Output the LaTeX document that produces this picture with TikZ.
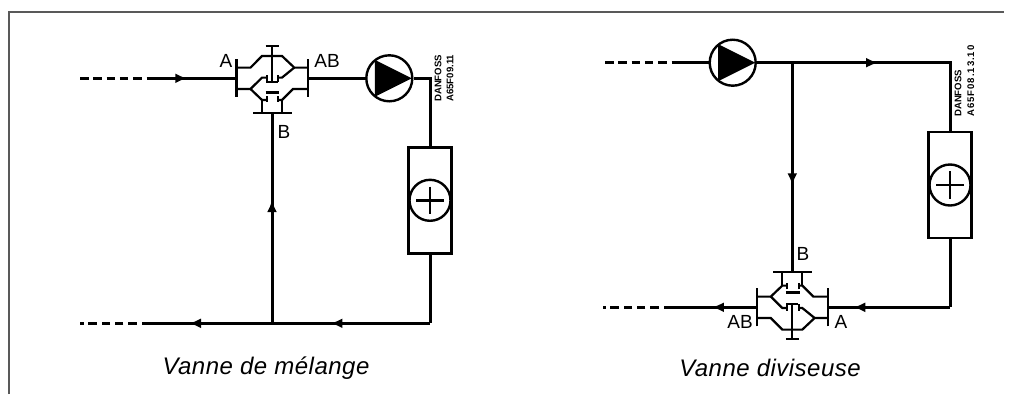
\documentclass[tikz,border=0pt]{standalone}
\usepackage{fontspec}
\setmainfont{Liberation Sans}
\usetikzlibrary{arrows.meta,decorations.markings}
\tikzset{
    pipe/.style={line width=3pt},
    dashpipe/.style={line width=3pt, dash pattern=on 8.5pt off 4.8pt},
    flow/.style={postaction={decorate}, decoration={markings, mark=at position #1 with {\arrow{Latex[length=12pt,width=10pt]}}}},
    frameline/.style={line width=2pt, draw=black!65},
    tag/.style={font=\fontsize{19}{19}\selectfont, inner sep=0pt},
    ref/.style={font=\fontsize{9.6}{9.6}\bfseries\selectfont, rotate=90, anchor=west, inner sep=0pt},
    caption/.style={font=\fontsize{24}{24}\itshape\addfontfeature{LetterSpace=2}\selectfont, inner sep=0pt},
    pumpbody/.style={circle, draw, line width=2.4pt, minimum size=46pt, inner sep=0pt},
    radiator/.style={rectangle, draw, line width=2.4pt, minimum width=43pt, minimum height=106pt, inner sep=0pt},
    valve/.pic={
        \begin{scope}[line width=2.2pt]
            \draw (-35.5,-19) -- (-35.5,19);
            \draw (36,-19) -- (36,19);
            \draw (-35.5,-10.7) -- (-21.5,-10.7) -- (-10,-22.3) -- (10,-22.3) -- (22.3,-10.7) -- (36,-10.7);
            \draw (-6.5,-32) -- (6.5,-32);
            \draw (0,-32) -- (0,3.5);
            \draw (-6,3.5) -- (6,3.5);
            \draw (-5.3,-3.3) -- (-5.3,3.5);
            \draw (6.3,-3.3) -- (6.3,3.5);
            \draw (-21.5,10.7) -- (-10,-0.7) -- (-5.3,-0.7);
            \draw (22.3,-10.7) -- (10,-0.7) -- (6.3,-0.7);
            \draw[line width=3pt] (-6.5,14.5) -- (7.3,14.5);
            \draw (-35.5,10.7) -- (-21.5,10.7) -- (-10,21.7) -- (-5.3,21.7);
            \draw (-5.3,18) -- (-5.3,24);
            \draw (36,10.7) -- (21,10.7) -- (10,21.7) -- (6.3,21.7);
            \draw (6.3,18) -- (6.3,24);
            \draw (-10,21.7) -- (-10,35);
            \draw (10,21.7) -- (10,35);
            \draw (-19,35) -- (20,35);
        \end{scope}
        \coordinate (-left) at (-35.5,0);
        \coordinate (-right) at (36,0);
        \coordinate (-stem) at (0,35);
    },
    plusmark/.pic={
        \draw[line width=2.4pt] (0,0) circle (20.5);
        \draw[line width=2.4pt] (-13.7,0) -- (13.7,0) (0,-13.7) -- (0,13.7);
    },
    pumpmark/.pic={
        \fill (-14.5,-18.5) -- (22.5,0) -- (-14.5,18.5) -- cycle;
    }
}
\begin{document}
\begin{tikzpicture}[x=1pt, y=-1pt]
    \useasboundingbox (0,0) rectangle (1016,394);

    % frame
    \coordinate (f1) at (8.5,394);
    \coordinate (f2) at (8.5,11.5);
    \coordinate (f3) at (1004,11.5);
    \draw[frameline] (f1) -- (f2) -- (f3);

    % left circuit
    \pic (mix) at (272,78.3) {valve};
    \node[pumpbody] (p1) at (389.3,78.3) {};
    \pic at (389.3,78.3) {pumpmark};
    \node[radiator] (r1) at (430,200.3) {};
    \pic at (430,200.3) {plusmark};
    \coordinate (a1) at (80,78.3);
    \coordinate (a2) at (147,78.3);
    \coordinate (b1) at (80,323.3);
    \coordinate (b2) at (150,323.3);
    \coordinate (j1) at (272,323.3);
    \coordinate (c1) at (430,78.3);
    \coordinate (c2) at (430,323.3);

    \draw[dashpipe] (a1) -- (a2);
    \draw[pipe, flow=0.45] (a2) -- (mix-left);
    \draw[pipe] (mix-right) -- (p1);
    \draw[pipe] (p1) -- (c1) -- (r1);
    \draw[pipe] (r1) -- (c2);
    \draw[pipe, flow=0.63] (c2) -- (j1);
    \draw[pipe, flow=0.68] (j1) -- (b2);
    \draw[dashpipe] (b2) -- (b1);
    \draw[pipe, flow=0.587] (j1) -- (mix-stem);

    \node[tag] (la) at (226,61) {A};
    \node[tag] (lab) at (327,61) {AB};
    \node[tag] (lb) at (284,132) {B};
    \node[ref] (d1) at (438,102) {DANFOSS};
    \node[ref] (d2) at (450,102) {A65F09.11};
    \node[caption] (t1) at (266,368) {Vanne de mélange};

    % right circuit
    \pic[yscale=-1] (div) at (792.3,307.3) {valve};
    \node[pumpbody] (p2) at (732.7,62.7) {};
    \pic at (732.7,62.7) {pumpmark};
    \node[radiator] (r2) at (950,185) {};
    \pic at (950,185) {plusmark};
    \coordinate (e1) at (605,62.7);
    \coordinate (e2) at (672,62.7);
    \coordinate (g1) at (603,307.3);
    \coordinate (g2) at (672,307.3);
    \coordinate (j2) at (792.3,62.7);
    \coordinate (h1) at (950,62.7);
    \coordinate (h2) at (950,307.3);

    \draw[dashpipe] (e1) -- (e2);
    \draw[pipe] (e2) -- (p2);
    \draw[pipe] (p2) -- (j2);
    \draw[pipe, flow=0.38] (j2) -- (h1) -- (r2);
    \draw[pipe] (r2) -- (h2);
    \draw[pipe, flow=0.795] (h2) -- (div-right);
    \draw[pipe, flow=0.585] (j2) -- (div-stem);
    \draw[pipe, flow=0.53] (div-left) -- (g2);
    \draw[dashpipe] (g2) -- (g1);

    \node[tag] (lb2) at (803,254) {B};
    \node[tag] (lab2) at (740,322) {AB};
    \node[tag] (la2) at (841,322) {A};
    \node[ref] (d3) at (958,117) {DANFOSS};
    \node[ref, font=\fontsize{9.6}{9.6}\bfseries\addfontfeature{LetterSpace=10}\selectfont] (d4) at (970.7,117) {A65F08.13.10};
    \node[caption] (t2) at (770,368) {Vanne diviseuse};
\end{tikzpicture}
\end{document}
